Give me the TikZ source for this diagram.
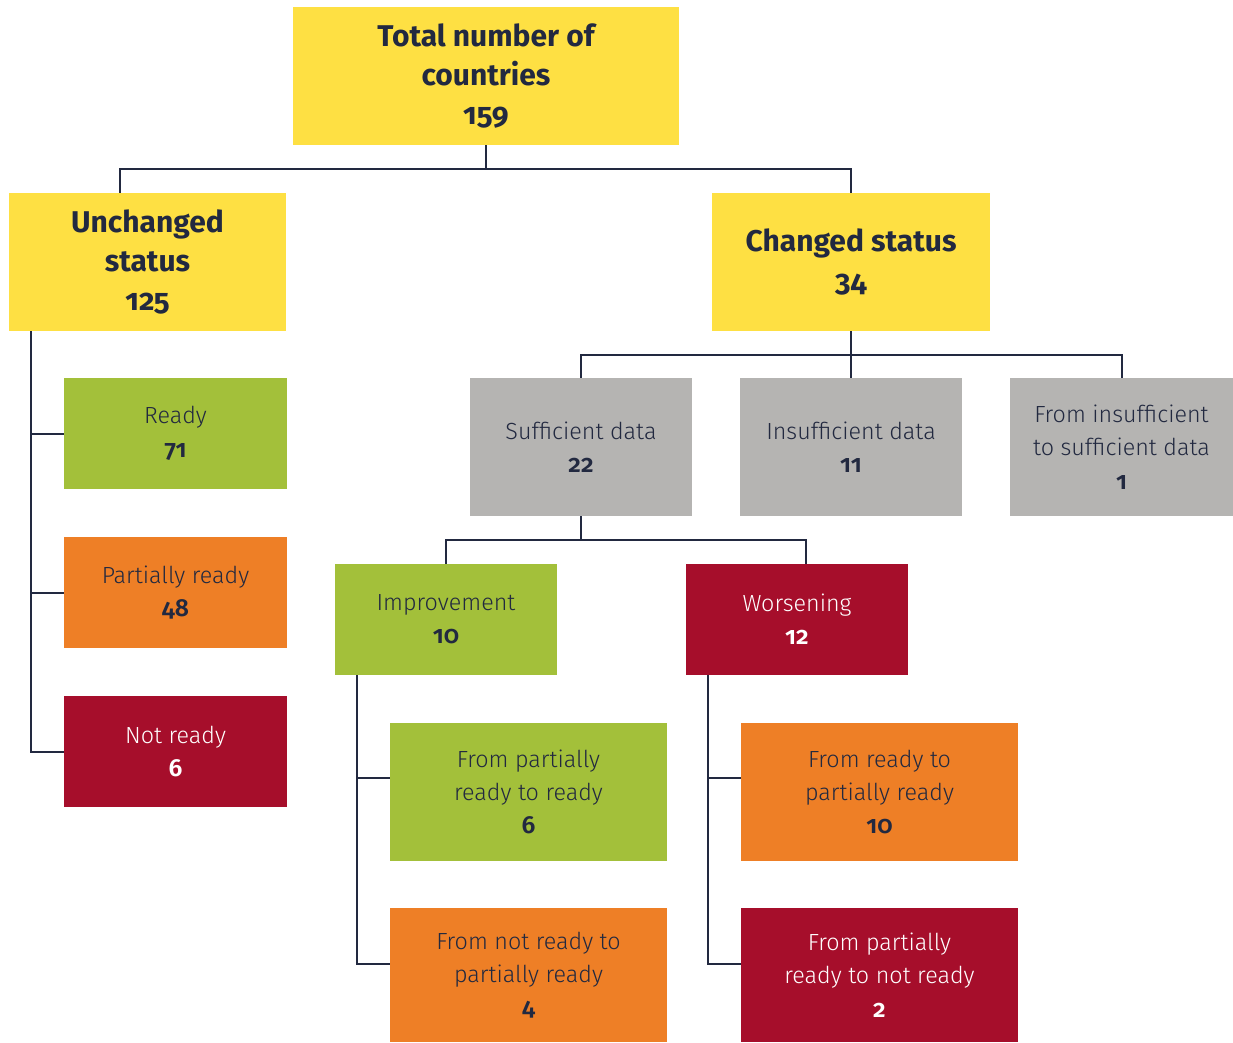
\documentclass[tikz,border=0pt]{standalone}
\usepackage{fontspec}
\setmainfont{Fira Sans}[Numbers=OldStyle]
\newfontfamily\flight{Fira Sans Light}[Numbers=OldStyle, BoldFont={Fira Sans SemiBold}]
\usetikzlibrary{calc}
\definecolor{cyellow}{HTML}{FEE043}
\definecolor{cgreen}{HTML}{A3C03A}
\definecolor{corange}{HTML}{EE7F26}
\definecolor{cred}{HTML}{A60E2B}
\definecolor{cgray}{HTML}{B5B4B2}
\definecolor{cink}{HTML}{222940}
\tikzset{
  box/.style={draw=none, inner sep=0pt, align=center, text=cink, font=\flight\fontsize{17.5}{25}\selectfont},
  big/.style={box, font=\fontsize{22.5}{29.5}\selectfont\bfseries},
  conn/.style={draw=cink, line width=1.5pt},
}
% \bx{name}{style}{x1}{y1}{x2}{y2}{text}
\newcommand{\bx}[7]{%
  \node[#2, minimum width={(#5-#3)*0.75pt}, minimum height={(#6-#4)*0.75pt}] (#1) at ({(#3+#5)/2},{(#4+#6)/2}) {#7};}
\newcommand{\num}[1]{{\fontsize{18.5}{25}\selectfont\bfseries #1}}
\begin{document}
\begin{tikzpicture}[x=0.75pt,y=-0.75pt]
\useasboundingbox (0,0) rectangle (1233,1043);
\coordinate (uc) at (120,193);
\coordinate (lt) at (31,331);
\coordinate (it) at (357,675);
\coordinate (wt) at (708,675);
\bx{total}{big,fill=cyellow}{293}{7}{679}{145}{Total number of\\countries\\159}
\bx{unch}{big,fill=cyellow}{9}{193}{286}{331}{Unchanged\\status\\125}
\bx{chg}{big,fill=cyellow}{712}{193}{990}{331}{Changed status\\34}
\bx{ready}{box,fill=cgreen}{64}{378}{287}{489}{Ready\\\num{71}}
\bx{partial}{box,fill=corange}{64}{537}{287}{648}{Partially ready\\\num{48}}
\bx{notready}{box,fill=cred,text=white}{64}{696}{287}{807}{Not ready\\\num{6}}
\bx{suff}{box,fill=cgray}{470}{378}{692}{516}{Sufficient data\\\num{22}}
\bx{insuff}{box,fill=cgray}{740}{378}{962}{516}{Insufficient data\\\num{11}}
\bx{fromins}{box,fill=cgray}{1010}{378}{1233}{516}{From insufficient\\to sufficient data\\\num{1}}
\bx{impr}{box,fill=cgreen}{335}{564}{557}{675}{Improvement\\\num{10}}
\bx{wors}{box,fill=cred,text=white}{686}{564}{908}{675}{Worsening\\\num{12}}
\bx{p2r}{box,fill=cgreen}{390}{723}{667}{861}{From partially\\ready to ready\\\num{6}}
\bx{n2p}{box,fill=corange}{390}{908}{667}{1042}{From not ready to\\partially ready\\\num{4}}
\bx{r2p}{box,fill=corange}{741}{723}{1018}{861}{From ready to\\partially ready\\\num{10}}
\bx{p2n}{box,fill=cred,text=white}{741}{908}{1018}{1042}{From partially\\ready to not ready\\\num{2}}
% tree lines
\draw[conn] (total.south) -- ++(0,24) -| (uc);
\draw[conn] (total.south) -- ++(0,24) -| (chg.north);
\draw[conn] (chg.south) -- ++(0,24) -| (suff.north);
\draw[conn] (chg.south) -- ++(0,24) -| (fromins.north);
\draw[conn] (chg.south) -- (insuff.north);
\draw[conn] (suff.south) -- ++(0,24) -| (impr.north -| 446,0);
\draw[conn] (suff.south) -- ++(0,24) -| (wors.north -| 806,0);
\draw[conn] (lt) |- (notready.west);
\draw[conn] (lt |- ready.west) -- (ready.west);
\draw[conn] (lt |- partial.west) -- (partial.west);
\draw[conn] (it) |- ([yshift=8.25pt]n2p.west);
\draw[conn] (it |- 0,778) -- (p2r.west |- 0,778);
\draw[conn] (wt) |- ([yshift=8.25pt]p2n.west);
\draw[conn] (wt |- 0,778) -- (r2p.west |- 0,778);
\end{tikzpicture}
\end{document}
